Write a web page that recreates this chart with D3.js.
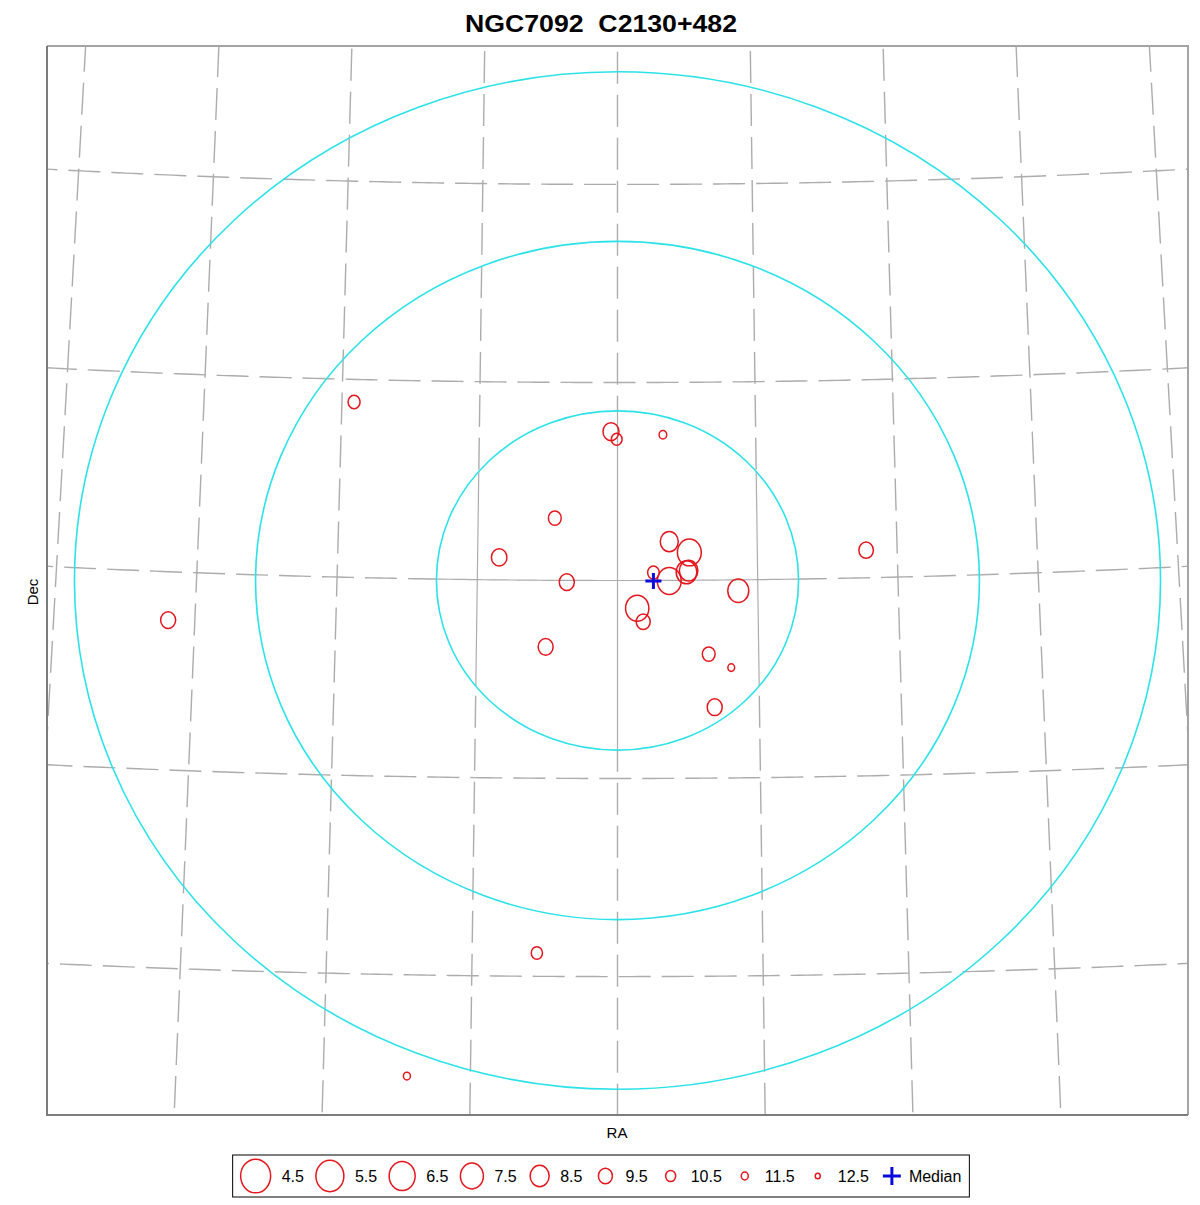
<!DOCTYPE html>
<html>
<head>
<meta charset="utf-8">
<script src="https://cdn.jsdelivr.net/npm/d3@7"></script>
<style>
  body { margin: 0; background: #fff; }
  svg { display: block; font-family: "Liberation Sans", Arial, sans-serif; }
</style>
</head>
<body>
<svg id="chart" width="1200" height="1205"></svg>
<script>
const title = 'NGC7092  C2130+482';

// field centre (RA, Dec in degrees) and half width of the plotted field
const fieldCenter = [323.0, 48.43];
const halfField = 2.7;

// distance rings (degrees) and grid steps (degrees from centre)
const ringRadii = [0.857, 1.713, 2.570];
const raGrid = [-5, -4, -3, -2, -1, 0, 1, 2, 3, 4, 5];
const decGrid = [-3, -2, -1, 0, 1, 2, 3];

// stars: offsets from centre in arcmin (east +, north +) and magnitude
const starDx = [74.8, 1.85, 0.23, -12.9, 17.8, 33.6, 14.4, -14.7, -20.4, -10.2, -14.7, -19.6,
  -20.2, -5.6, -7.3, -34.3, 20.4, -25.9, -32.3, -27.6, -70.6, 127.6, 22.9, 59.8];
const starDy = [54.1, 45.1, 42.8, 44.2, 18.9, 7.0, -0.5, 11.8, 8.5, 2.4, -0.15, 2.5,
  3.0, -8.4, -12.5, -3.1, -20.1, -22.3, -26.4, -38.4, 9.2, -12.0, -112.9, -150.2];
const starMag = [10.0, 9.1, 10.3, 11.3, 9.8, 9.2, 9.3, 8.7, 7.2, 10.1, 7.2, 8.1,
  8.6, 7.4, 9.5, 8.0, 9.3, 9.8, 11.6, 9.3, 9.4, 9.3, 10.2, 11.5];

// median position (arcmin)
const medianPos = [-10.2, -0.15];

const legendMags = [4.5, 5.5, 6.5, 7.5, 8.5, 9.5, 10.5, 11.5, 12.5];

const svg = d3.select('#chart');
const frame = { left: 47, top: 46, right: 1188, bottom: 1115 };

const x = d3.scaleLinear().domain([halfField, -halfField]).range([frame.left, frame.right]);
const y = d3.scaleLinear().domain([halfField, -halfField]).range([frame.top, frame.bottom]);
const rScale = d3.scaleLinear().domain(legendMags).range([15, 14, 13, 11.5, 9.5, 7, 5, 3.5, 2.5]);
const aspect = 1.12;

const gnomonic = d3.geoGnomonic()
  .rotate([-fieldCenter[0], -fieldCenter[1]])
  .scale(180 / Math.PI)
  .translate([0, 0]);
const toScreen = (ra, dec) => {
  const p = gnomonic([ra, dec]);
  return [x(p[0]), y(-p[1])];
};

const cx = x(0), cy = y(0);
const innerRx = cx - x(ringRadii[0]), innerRy = y(-ringRadii[0]) - cy;
const ellipsePath = (rx, ry) =>
  `M${cx - rx},${cy}a${rx},${ry} 0 1,0 ${2 * rx},0a${rx},${ry} 0 1,0 ${-2 * rx},0Z`;

const defs = svg.append('defs');
defs.append('clipPath').attr('id', 'innerClip')
  .append('ellipse')
  .attr('cx', cx).attr('cy', cy).attr('rx', innerRx).attr('ry', innerRy);
defs.append('clipPath').attr('id', 'outerClip')
  .append('path')
  .attr('clip-rule', 'evenodd')
  .attr('d', `M${frame.left},${frame.top}H${frame.right}V${frame.bottom}H${frame.left}Z` + ellipsePath(innerRx, innerRy));

// RA / Dec grid lines
const gridLines = [];
raGrid.forEach(k => {
  gridLines.push(d3.range(-4, 4.001, 0.05).map(d => toScreen(fieldCenter[0] + k, fieldCenter[1] + d)));
});
decGrid.forEach(j => {
  gridLines.push(d3.range(-7, 7.001, 0.05).map(a => toScreen(fieldCenter[0] + a, fieldCenter[1] + j)));
});
const line = d3.line();

svg.append('g')
  .attr('clip-path', 'url(#outerClip)')
  .selectAll('path')
  .data(gridLines)
  .join('path')
    .attr('d', line)
    .attr('fill', 'none')
    .attr('stroke', '#acacac')
    .attr('stroke-width', 1.4)
    .attr('stroke-dasharray', '32,11');

svg.append('g')
  .attr('clip-path', 'url(#innerClip)')
  .selectAll('path')
  .data(gridLines)
  .join('path')
    .attr('d', line)
    .attr('fill', 'none')
    .attr('stroke', '#acacac')
    .attr('stroke-width', 1.2);

// distance rings
svg.append('g')
  .selectAll('ellipse')
  .data(ringRadii)
  .join('ellipse')
    .attr('cx', cx)
    .attr('cy', cy)
    .attr('rx', d => cx - x(d))
    .attr('ry', d => y(-d) - cy)
    .attr('fill', 'none')
    .attr('stroke', '#2ce2e8')
    .attr('stroke-width', 1.6);

// stars
svg.append('g')
  .selectAll('ellipse')
  .data(starMag.map((m, i) => ({ dx: starDx[i], dy: starDy[i], mag: m })))
  .join('ellipse')
    .attr('cx', d => x(d.dx / 60))
    .attr('cy', d => y(d.dy / 60))
    .attr('rx', d => rScale(d.mag))
    .attr('ry', d => rScale(d.mag) * aspect)
    .attr('fill', 'none')
    .attr('stroke', '#e3161e')
    .attr('stroke-width', 1.5);

// median cross
const cross = (g, px, py, h) => g.append('path')
  .attr('d', `M${px - h},${py}H${px + h}M${px},${py - h}V${py + h}`)
  .attr('stroke', '#0a0adc')
  .attr('stroke-width', 3)
  .attr('fill', 'none');
cross(svg, x(medianPos[0] / 60), y(medianPos[1] / 60), 8);

// frame
const fr = svg.append('g').attr('fill', 'none').attr('stroke-width', 2);
fr.append('path').attr('d', `M${frame.left},${frame.top}H${frame.right}V${frame.bottom}`).attr('stroke', '#a4a4a4');
fr.append('path').attr('d', `M${frame.left},${frame.top}V${frame.bottom}H${frame.right}`).attr('stroke', '#7c7c7c');

// title and axis labels
svg.append('text')
  .attr('x', 601).attr('y', 32)
  .attr('text-anchor', 'middle')
  .attr('font-size', 24)
  .attr('font-weight', 'bold')
  .attr('textLength', 272)
  .attr('lengthAdjust', 'spacingAndGlyphs')
  .style('white-space', 'pre')
  .text(title);

svg.append('text')
  .attr('x', 617).attr('y', 1138)
  .attr('text-anchor', 'middle')
  .attr('font-size', 15)
  .text('RA');

svg.append('text')
  .attr('transform', 'translate(38,592) rotate(-90)')
  .attr('text-anchor', 'middle')
  .attr('font-size', 15)
  .text('Dec');

// legend
const legendY = 1176;
const legend = svg.append('g');
const box = legend.append('rect');
const items = legend.append('g');
let cursor = 0;
legendMags.forEach(m => {
  const r = rScale(m);
  const c = cursor + Math.max(r, 11);
  items.append('ellipse')
    .attr('cx', c).attr('cy', legendY)
    .attr('rx', r).attr('ry', r * aspect)
    .attr('fill', 'none')
    .attr('stroke', '#e3161e')
    .attr('stroke-width', 1.5);
  const t = items.append('text')
    .attr('x', c + Math.max(r, 9) + 11)
    .attr('y', legendY + 6)
    .attr('font-size', 16)
    .text(m.toFixed(1));
  cursor = c + Math.max(r, 9) + 11 + t.node().getComputedTextLength() + 12;
});
{
  const c = cursor + 11;
  cross(items, c, legendY, 9);
  const t = items.append('text')
    .attr('x', c + 17)
    .attr('y', legendY + 6)
    .attr('font-size', 16)
    .text('Median');
  cursor = c + 17 + t.node().getComputedTextLength();
}
const boxW = cursor + 16;
const boxX = 601 - boxW / 2;
items.attr('transform', `translate(${boxX + 8},0)`);
box.attr('x', boxX).attr('y', 1155)
  .attr('width', boxW).attr('height', 42)
  .attr('fill', '#fff')
  .attr('stroke', '#000')
  .attr('stroke-width', 1);
</script>
</body>
</html>
